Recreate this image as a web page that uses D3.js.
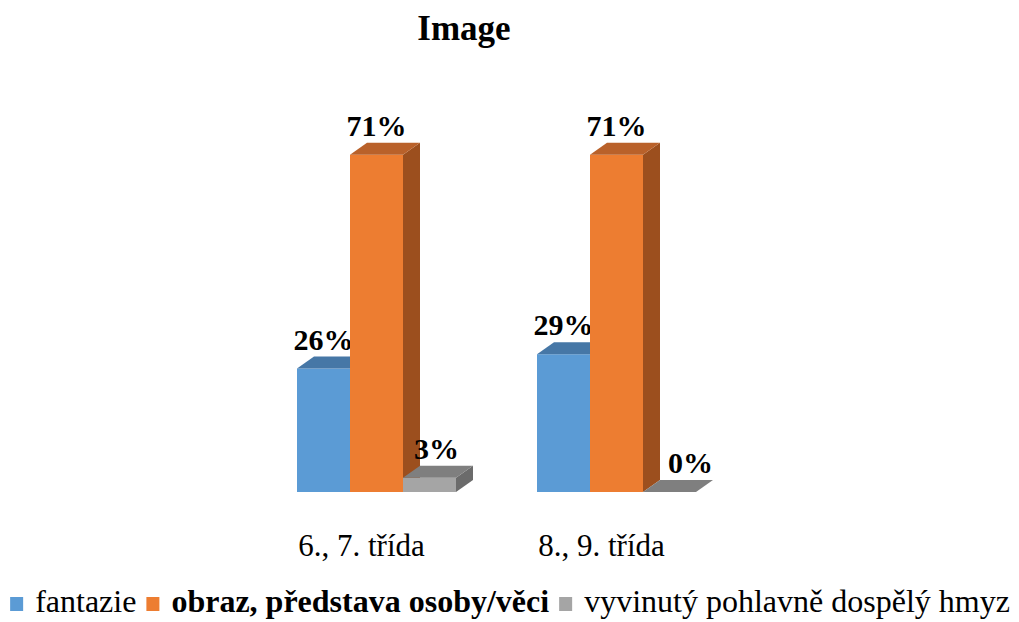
<!DOCTYPE html>
<html>
<head>
<meta charset="utf-8">
<script src="https://cdn.jsdelivr.net/npm/d3@7"></script>
<style>
  body { margin: 0; background: #fff; }
</style>
</head>
<body>
<div id="chart"></div>
<script>
const categories = ["6., 7. třída", "8., 9. třída"];
const seriesNames = ["fantazie", "obraz, představa osoby/věci", "vyvinutý pohlavně dospělý hmyz"];
const fantazie = [26, 29];
const obraz = [71, 71];
const hmyz = [3, 0];
const seriesValues = [fantazie, obraz, hmyz];

const width = 1019, height = 622;
const depthX = 17, depthY = 12;
const font = "Liberation Serif";

// front, top, side colours per series
const colors = [
    { front: "#5b9bd5", top: "#4677a6", side: "#3f6d98" },
    { front: "#ed7d31", top: "#b9612a", side: "#9c4f1e" },
    { front: "#a5a5a5", top: "#7f7f7f", side: "#6b6b6b" }
];

const svg = d3.select("#chart").append("svg")
    .attr("width", width)
    .attr("height", height);

svg.append("text")
    .attr("x", 464)
    .attr("y", 40)
    .attr("text-anchor", "middle")
    .attr("font-family", font)
    .attr("font-size", 35)
    .attr("font-weight", "bold")
    .text("Image");

const x0 = d3.scaleBand()
    .domain(categories)
    .range([256.5, 736.5])
    .paddingInner(0.3375)
    .paddingOuter(0.16875);

const x1 = d3.scaleBand()
    .domain(d3.range(seriesNames.length))
    .range([0, x0.bandwidth()]);

const y = d3.scaleLinear()
    .domain([0, 80])
    .range([492, 112]);

const bw = x1.bandwidth();

categories.forEach((cat, ci) => {
    const g = svg.append("g").attr("transform", "translate(" + x0(cat) + ",0)");
    seriesValues.forEach((vals, si) => {
        const v = vals[ci];
        const xl = x1(si), xr = xl + bw;
        const yt = y(v), yb = y(0);
        const c = colors[si];
        if (v > 0) {
            // front face
            g.append("rect")
                .attr("x", xl).attr("y", yt)
                .attr("width", bw).attr("height", yb - yt)
                .attr("fill", c.front);
            // side face
            g.append("path")
                .attr("d", `M${xr},${yt}L${xr + depthX},${yt - depthY}L${xr + depthX},${yb - depthY}L${xr},${yb}Z`)
                .attr("fill", c.side);
        }
        // top face
        g.append("path")
            .attr("d", `M${xl},${yt}L${xl + depthX},${yt - depthY}L${xr + depthX},${yt - depthY}L${xr},${yt}Z`)
            .attr("fill", c.top);

        // value label (last series is nudged right, the empty bar even more)
        let shift = 0;
        if (si === 2) shift = v === 0 ? 21 : 7;
        g.append("text")
            .attr("x", xl + bw / 2 + shift)
            .attr("y", yt - depthY - 7)
            .attr("text-anchor", "middle")
            .attr("font-family", font)
            .attr("font-size", 30)
            .attr("font-weight", "bold")
            .text(v + "%");
    });

    svg.append("text")
        .attr("x", x0(cat) + x0.bandwidth() / 2 - 15)
        .attr("y", 556)
        .attr("text-anchor", "middle")
        .attr("font-family", font)
        .attr("font-size", 31)
        .text(cat);
});

// legend
const legend = svg.append("g");
let lx = 0;
const sq = 13;
seriesNames.forEach((name, i) => {
    const item = legend.append("g").attr("transform", "translate(" + lx + ",0)");
    item.append("rect")
        .attr("x", 0).attr("y", -15)
        .attr("width", sq).attr("height", 14)
        .attr("fill", colors[i].front);
    const t = item.append("text")
        .attr("x", sq + 12)
        .attr("y", 0)
        .attr("font-family", font)
        .attr("font-size", 32)
        .attr("font-weight", i === 1 ? "bold" : "normal")
        .text(name);
    lx += sq + 12 + t.node().getComputedTextLength() + 10;
});
const legendW = lx - 10;
legend.attr("transform", "translate(" + (510 - legendW / 2) + ",612)");
</script>
</body>
</html>
